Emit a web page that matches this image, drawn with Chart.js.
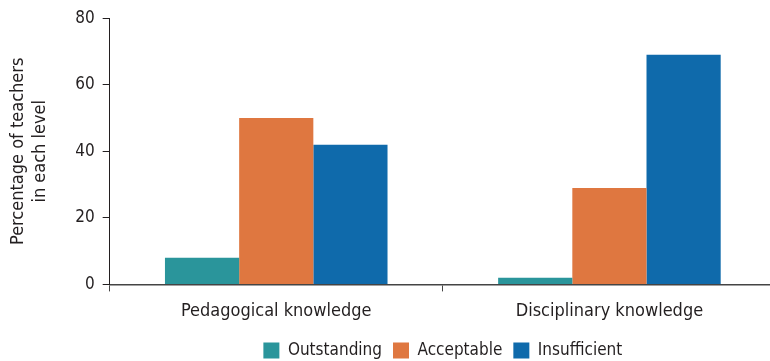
<!DOCTYPE html>
<html>
<head>
<meta charset="utf-8">
<script src="https://cdn.jsdelivr.net/npm/chart.js@4"></script>
<style>
  html, body { margin: 0; padding: 0; background: #fff; overflow: hidden; }
  /* the original plot runs a few px past the right edge of the picture */
  #wrap { width: 776px; height: 361px; }
</style>
</head>
<body>
<div id="wrap"><canvas id="chart"></canvas></div>
<script>
const categories = ["Pedagogical knowledge", "Disciplinary knowledge"];
const outstanding = [8, 2];
const acceptable = [50, 29];
const insufficient = [42, 69];
const yTicks = [0, 20, 40, 60, 80];

const fontFam = "'DejaVu Sans Condensed', 'Liberation Sans Narrow', 'Liberation Sans', sans-serif";
const ink = "#231f20";

new Chart(document.getElementById("chart"), {
  type: "bar",
  data: {
    labels: categories,
    datasets: [
      { label: "Outstanding", data: outstanding, backgroundColor: "#2a959b" },
      { label: "Acceptable", data: acceptable, backgroundColor: "#df7740" },
      { label: "Insufficient", data: insufficient, backgroundColor: "#0f6aab" }
    ]
  },
  options: {
    responsive: true,
    maintainAspectRatio: false,
    animation: false,
    layout: { padding: { top: 18, right: 0, left: 8, bottom: -8 } },
    datasets: { bar: { barPercentage: 1, categoryPercentage: 0.668 } },
    plugins: {
      tooltip: { enabled: false },
      legend: {
        position: "bottom",
        fullSize: false,
        labels: {
          color: ink,
          boxWidth: 16,
          boxHeight: 16,
          padding: 11,
          font: { family: fontFam, size: 17 }
        }
      }
    },
    scales: {
      x: {
        grid: { drawOnChartArea: false, drawTicks: true, tickLength: 7, color: "#444", offset: true },
        border: { color: "#444", width: 1.5 },
        ticks: { color: ink, padding: 9, font: { family: fontFam, size: 18 } }
      },
      y: {
        min: 0,
        max: 80,
        afterBuildTicks: axis => { axis.ticks = yTicks.map(v => ({ value: v })); },
        grid: { drawOnChartArea: false, drawTicks: true, tickLength: 7, color: ink },
        border: { color: ink, width: 1 },
        ticks: { color: ink, padding: 8, font: { family: fontFam, size: 17 } },
        title: {
          display: true,
          text: ["Percentage of teachers", "in each level"],
          color: ink,
          padding: { top: 0, bottom: 16 },
          font: { family: fontFam, size: 18 }
        }
      }
    }
  }
});
</script>
</body>
</html>
